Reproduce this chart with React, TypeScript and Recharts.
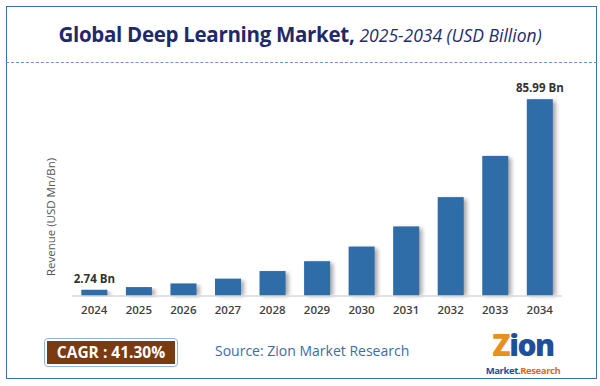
import { BarChart, Bar, XAxis, YAxis, LabelList } from "recharts"

const years = ["2024", "2025", "2026", "2027", "2028", "2029", "2030", "2031", "2032", "2033", "2034"]
const revenue = [2.74, 3.9, 5.5, 7.6, 10.9, 15.2, 21.6, 30.4, 43.2, 61.2, 85.99]
const barLabels = ["2.74 Bn", "", "", "", "", "", "", "", "", "", "85.99 Bn"]

const data = years.map((year, i) => ({ year, revenue: revenue[i], label: barLabels[i] }))

const FONT = "'Open Sans', 'Noto Sans', sans-serif"
const BAR = "#2f6da8"

function ShadowBar(props: any) {
  const { x, y, width, height } = props
  if (!height || height <= 0) return null
  return (
    <g>
      <rect x={x + 3} y={y + 2} width={width} height={height - 2} fill="#000" opacity={0.35} filter="url(#barShadow)" />
      <rect x={x} y={y} width={width} height={height} fill={BAR} />
    </g>
  )
}

function TopLabel(props: any) {
  const { x, y, width, value } = props
  if (!value) return null
  return (
    <text x={x + width / 2} y={y - 7} textAnchor="middle" fill="#333" fontSize={11.5} fontWeight={700} fontFamily={FONT}>
      {value}
    </text>
  )
}

export default function App() {
  return (
    <div style={{ position: "absolute", left: 0, top: 0, width: 600, height: 386, background: "#fff", fontFamily: FONT }}>
      <div style={{ position: "absolute", left: 6, top: 6, width: 589, height: 371, border: "1.5px solid #3c6ea8" }} />
      <div style={{ position: "absolute", left: 0, top: 20, width: 600, textAlign: "center", color: "#1f2a6b", whiteSpace: "nowrap" }}>
        <span style={{ fontSize: 20.5, fontWeight: 700, letterSpacing: -0.3 }}>Global Deep Learning Market,</span>
        <span style={{ fontSize: 17.5, fontStyle: "italic", marginLeft: 5 }}>2025-2034 (USD Billion)</span>
      </div>
      <div style={{ position: "absolute", left: 6, top: 62, width: 591, borderTop: "1.5px dashed #6a93cf" }} />

      <div style={{ position: "absolute", left: 0, top: 0 }}>
        <BarChart width={600} height={386} data={data} margin={{ top: 90, right: 38, left: 72, bottom: 60 }} barCategoryGap="21%">
          <defs>
            <filter id="barShadow" x="-50%" y="-10%" width="200%" height="130%">
              <feGaussianBlur stdDeviation="2" />
            </filter>
          </defs>
          <XAxis
            dataKey="year"
            tickLine={false}
            axisLine={{ stroke: "#d9d9d9", strokeWidth: 1.5 }}
            tick={{ fill: "#404040", fontSize: 11.5, fontWeight: 600, fontFamily: FONT }}
            tickMargin={4}
            height={30}
            interval={0}
          />
          <YAxis hide domain={[0, 90]} />
          <Bar dataKey="revenue" shape={ShadowBar} isAnimationActive={false}>
            <LabelList dataKey="label" content={TopLabel} />
          </Bar>
        </BarChart>
      </div>

      <div
        style={{
          position: "absolute", left: 50, top: 217, transform: "translate(-50%, -50%) rotate(-90deg)",
          fontSize: 11.5, color: "#555", whiteSpace: "nowrap",
        }}
      >
        Revenue (USD Mn/Bn)
      </div>

      <div style={{ position: "absolute", left: 44, top: 338, width: 134, height: 29, border: "1.5px solid #8fb3e0", borderRadius: 4, boxSizing: "border-box" }} />
      <div
        style={{
          position: "absolute", left: 47, top: 341, width: 128, height: 23, background: "#7a3a12", color: "#fff",
          fontWeight: 700, fontSize: 15.5, lineHeight: "23px", textAlign: "center", whiteSpace: "nowrap",
        }}
      >
        CAGR : 41.30%
      </div>
      <div style={{ position: "absolute", left: 215, top: 341, fontSize: 14, color: "#3a6ea5", whiteSpace: "nowrap" }}>
        Source: Zion Market Research
      </div>

      <div
        style={{
          position: "absolute", left: 482, top: 330, width: 82, textAlign: "center", whiteSpace: "nowrap",
          fontSize: 30, fontWeight: 800, lineHeight: "30px", color: "#1e4f9c", letterSpacing: -1.5,
        }}
      >
        <span style={{ color: "#e8901c" }}>Z</span>ion
      </div>
      <div
        style={{
          position: "absolute", left: 482, top: 365, width: 82, textAlign: "center", whiteSpace: "nowrap",
          fontSize: 9.5, fontWeight: 700, lineHeight: "12px", color: "#1e4f9c", letterSpacing: -0.4,
        }}
      >
        Market.<span style={{ color: "#e06a1a" }}>Research</span>
      </div>
    </div>
  )
}
